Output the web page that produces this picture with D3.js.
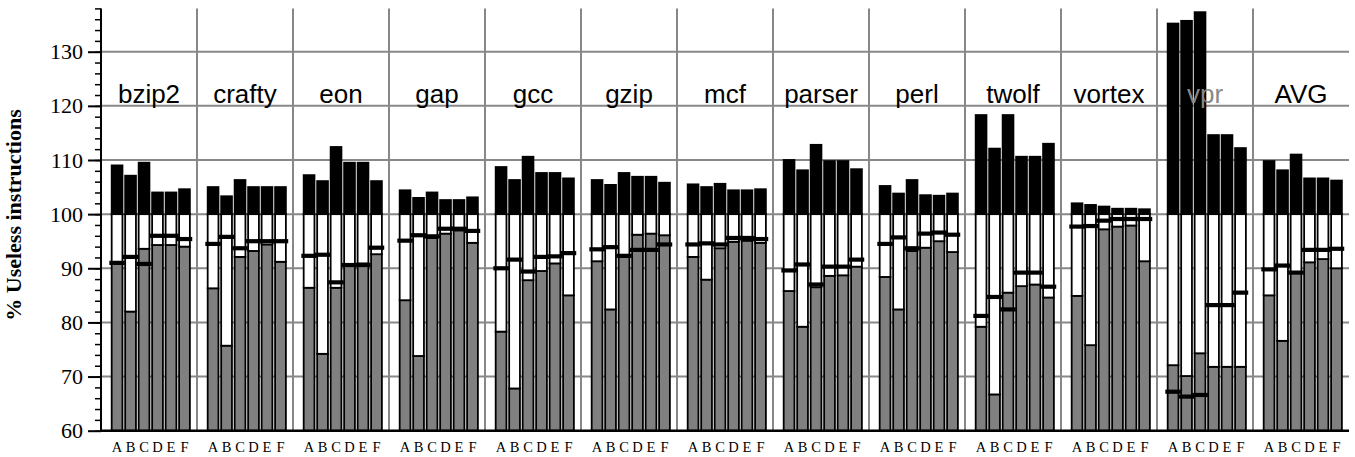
<!DOCTYPE html>
<html>
<head>
<meta charset="utf-8">
<script src="https://cdn.jsdelivr.net/npm/d3@7"></script>
<style>
  body { margin: 0; background: #fff; }
  .serif { font-family: "Liberation Serif", "Times New Roman", Times, serif; }
  .sans { font-family: "Liberation Sans", Arial, Helvetica, sans-serif; }
</style>
</head>
<body>
<script>
// benchmarks and configurations
const benchmarks = ["bzip2", "crafty", "eon", "gap", "gcc", "gzip", "mcf", "parser", "perl", "twolf", "vortex", "vpr", "AVG"];
const configs = ["A", "B", "C", "D", "E", "F"];

// total height of each bar (black part goes from 100 up to here)
const totals = [
  [109.0, 107.1, 109.5, 104.0, 104.0, 104.6],
  [105.0, 103.3, 106.3, 105.0, 105.0, 105.0],
  [107.2, 106.1, 112.4, 109.5, 109.5, 106.1],
  [104.4, 103.0, 104.0, 102.6, 102.6, 103.1],
  [108.7, 106.3, 110.6, 107.6, 107.6, 106.6],
  [106.3, 105.4, 107.6, 106.9, 106.9, 105.8],
  [105.5, 105.0, 105.6, 104.4, 104.4, 104.6],
  [110.0, 108.1, 112.8, 109.8, 109.8, 108.3],
  [105.2, 103.8, 106.3, 103.5, 103.4, 103.8],
  [118.3, 112.1, 118.3, 110.6, 110.6, 113.0],
  [102.0, 101.7, 101.4, 101.0, 101.0, 100.9],
  [135.2, 135.7, 137.3, 114.6, 114.6, 112.2],
  [109.8, 108.1, 111.0, 106.6, 106.6, 106.2]
];

// top of the gray part
const grayPart = [
  [90.9, 82.0, 93.6, 94.3, 94.3, 94.0],
  [86.3, 75.7, 92.1, 93.2, 94.4, 91.2],
  [86.4, 74.2, 86.4, 90.5, 90.9, 92.6],
  [84.1, 73.8, 95.6, 96.4, 97.0, 94.7],
  [78.3, 67.8, 87.8, 89.5, 90.9, 85.0],
  [91.3, 82.4, 92.1, 96.2, 96.4, 96.1],
  [92.1, 87.9, 93.7, 94.9, 95.1, 94.7],
  [85.8, 79.2, 86.5, 88.6, 88.7, 90.3],
  [88.4, 82.4, 93.2, 93.8, 95.0, 93.0],
  [79.2, 66.7, 85.5, 86.7, 87.0, 84.6],
  [84.9, 75.8, 97.2, 97.7, 97.9, 91.3],
  [72.1, 70.1, 74.3, 71.8, 71.8, 71.8],
  [85.0, 76.6, 89.2, 91.1, 91.7, 90.0]
];

// thick marker position
const markers = [
  [91.0, 92.1, 90.8, 96.0, 96.0, 95.4],
  [94.5, 95.8, 93.7, 95.0, 95.0, 95.0],
  [92.3, 92.5, 87.4, 90.6, 90.6, 93.8],
  [95.1, 96.1, 95.9, 97.3, 97.3, 96.9],
  [90.0, 91.6, 89.4, 92.1, 92.2, 92.8],
  [93.5, 93.9, 92.3, 93.4, 93.4, 94.4],
  [94.4, 94.6, 94.4, 95.6, 95.6, 95.4],
  [89.6, 90.7, 87.0, 90.3, 90.3, 91.6],
  [94.5, 95.7, 93.7, 96.4, 96.6, 96.2],
  [81.2, 84.7, 82.4, 89.2, 89.2, 86.6],
  [97.7, 97.8, 98.8, 99.1, 99.1, 99.1],
  [67.2, 66.3, 66.6, 83.2, 83.2, 85.5],
  [89.8, 90.5, 89.2, 93.4, 93.4, 93.6]
];

const yMajorTicks = [60, 70, 80, 90, 100, 110, 120, 130];

const width = 1355, height = 457;
const plotLeft = 101, plotRight = 1349, plotTop = 8.4, plotBottom = 430.7;

const svg = d3.select("body").append("svg")
  .attr("width", width)
  .attr("height", height);

const y = d3.scaleLinear().domain([60, 138]).range([plotBottom, plotTop]);
const x = d3.scaleBand().domain(benchmarks).range([plotLeft, plotRight]).padding(0);
const xi = d3.scaleBand().domain(configs).range([0, x.bandwidth()])
  .paddingInner(0.2).paddingOuter(0.66).align(0.6);

// grid
svg.append("g")
  .selectAll("line")
  .data(yMajorTicks.filter(v => v > 60))
  .join("line")
  .attr("x1", plotLeft).attr("x2", plotRight)
  .attr("y1", d => y(d)).attr("y2", d => y(d))
  .attr("stroke", "#888").attr("stroke-width", 2);

svg.append("g")
  .selectAll("line")
  .data(benchmarks.slice(1))
  .join("line")
  .attr("x1", d => x(d)).attr("x2", d => x(d))
  .attr("y1", plotTop).attr("y2", plotBottom)
  .attr("stroke", "#888").attr("stroke-width", 2);

// bars
const rows = [];
benchmarks.forEach((b, i) => {
  configs.forEach((c, j) => {
    rows.push({ b, c, total: totals[i][j], gray: grayPart[i][j], mark: markers[i][j] });
  });
});

const bw = xi.bandwidth();
const bars = svg.append("g")
  .selectAll("g")
  .data(rows)
  .join("g")
  .attr("transform", d => `translate(${x(d.b) + xi(d.c)},0)`);

bars.append("rect")
  .attr("x", 0).attr("width", bw)
  .attr("y", d => y(d.gray)).attr("height", d => y(60) - y(d.gray))
  .attr("fill", "#808080").attr("stroke", "#000").attr("stroke-width", 1.8);

bars.append("rect")
  .attr("x", 0).attr("width", bw)
  .attr("y", y(100)).attr("height", d => y(d.gray) - y(100))
  .attr("fill", "#fff").attr("stroke", "#000").attr("stroke-width", 1.8);

bars.append("rect")
  .attr("x", 0).attr("width", bw)
  .attr("y", d => y(d.total)).attr("height", d => y(100) - y(d.total))
  .attr("fill", "#000").attr("stroke", "#000").attr("stroke-width", 1.8);

const mw = xi.step() + 2;
bars.append("rect")
  .attr("x", bw / 2 - mw / 2).attr("width", mw)
  .attr("y", d => y(d.mark) - 2.1).attr("height", 4.2)
  .attr("fill", "#000");

// group labels
svg.append("g")
  .selectAll("text")
  .data(benchmarks)
  .join("text")
  .attr("class", "sans")
  .attr("x", d => x(d) + x.bandwidth() / 2)
  .attr("y", 103)
  .attr("text-anchor", "middle")
  .style("font-size", "26px")
  .attr("fill", d => d === "vpr" ? "#888" : "#000")
  .text(d => d);

// config letters under each bar
svg.append("g")
  .selectAll("text")
  .data(rows)
  .join("text")
  .attr("class", "serif")
  .attr("x", d => x(d.b) + xi(d.c) + bw / 2)
  .attr("y", 451.5)
  .attr("text-anchor", "middle")
  .style("font-size", "14.5px")
  .attr("fill", "#000")
  .text(d => d.c);

// y axis
const yAxis = svg.append("g").attr("transform", `translate(${plotLeft},0)`);
yAxis.call(d3.axisLeft(y).tickValues(d3.range(60, 139, 2)).tickSize(6).tickFormat(""))
  .call(g => g.select(".domain").remove())
  .call(g => g.selectAll("line").attr("stroke-width", 1.5));
yAxis.append("g")
  .call(d3.axisLeft(y).tickValues(yMajorTicks).tickSize(13).tickPadding(5))
  .attr("font-family", null)
  .attr("font-size", null)
  .call(g => g.select(".domain").remove())
  .call(g => g.selectAll("line").attr("stroke-width", 2))
  .call(g => g.selectAll("text")
    .attr("class", "serif")
    .style("font-size", "22px")
    .attr("fill", "#000"));

svg.append("line")
  .attr("x1", plotLeft).attr("x2", plotLeft)
  .attr("y1", plotTop).attr("y2", plotBottom)
  .attr("stroke", "#000").attr("stroke-width", 2);
svg.append("line")
  .attr("x1", plotLeft - 1).attr("x2", plotRight)
  .attr("y1", plotBottom).attr("y2", plotBottom)
  .attr("stroke", "#000").attr("stroke-width", 2.5);

svg.append("text")
  .attr("class", "serif")
  .attr("transform", `translate(21,215) rotate(-90)`)
  .attr("text-anchor", "middle")
  .style("font-weight", "bold")
  .style("font-size", "22px")
  .text("% Useless instructions");
</script>
</body>
</html>
